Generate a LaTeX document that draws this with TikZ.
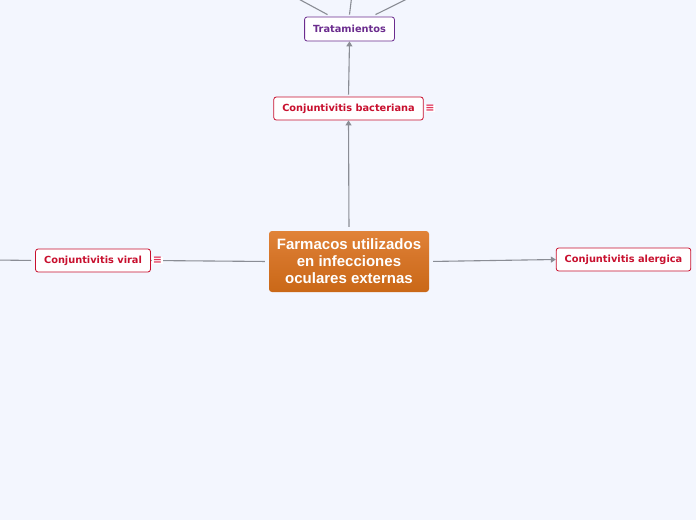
\documentclass[tikz,border=0pt]{standalone}
\usepackage{fontspec}
\setmainfont{DejaVu Sans}
\newfontfamily\centralfont{Liberation Sans}
\usetikzlibrary{arrows.meta}
\definecolor{bgblue}{HTML}{F3F6FE}
\definecolor{topicred}{HTML}{C8102E}
\definecolor{topicpurple}{HTML}{6B2C8E}
\definecolor{orangetop}{HTML}{EC9148}
\definecolor{orangemid}{HTML}{D6762A}
\definecolor{orangebot}{HTML}{C5620F}
\definecolor{orangeedge}{HTML}{E28535}
\definecolor{linkgray}{HTML}{8A8D95}
\definecolor{iconred}{HTML}{E0355A}
\pgfdeclareverticalshading{centralshade}{100bp}{color(0bp)=(orangeedge); color(4bp)=(orangeedge);
  color(12bp)=(orangebot); color(55bp)=(orangemid); color(96bp)=(orangetop); color(100bp)=(orangetop)}

\tikzset{
  topic/.style={draw=topicred, text=topicred, fill=white, rounded corners=2.5pt, line width=0.8pt,
    minimum height=23pt, inner xsep=8.5pt, text depth=1.2pt, font=\bfseries\fontsize{9.8}{11}\selectfont},
  subtopic/.style={topic, draw=topicpurple, text=topicpurple, minimum height=24pt},
  central/.style={rounded corners=3pt, shading=centralshade,
    text=white, align=center, minimum width=160pt, minimum height=61pt, inner sep=0pt,
    font=\centralfont\bfseries\fontsize{15}{17}\selectfont},
  noteicon/.style={fill=white, text=iconred, inner sep=0.6pt, font=\bfseries\fontsize{11}{11}\selectfont},
  link/.style={draw=linkgray, line width=1.1pt},
  linkarrow/.style={link, -{Triangle[length=5pt,width=6pt]}}
}

\begin{document}
\begin{tikzpicture}[x=1pt,y=-1pt]
  \useasboundingbox[fill=bgblue] (0,0) rectangle (696,520);

  % main topic and branches
  \node[central] (farmacos) at (349,261.5) {Farmacos utilizados\\en infecciones\\oculares externas};
  \node[topic] (bacteriana) at (348.5,108.5) {Conjuntivitis bacteriana};
  \node[subtopic] (tratamientos) at (349.5,29) {Tratamientos};
  \node[topic] (viral) at (93,260.5) {Conjuntivitis viral};
  \node[topic] (alergica) at (623.5,259.5) {Conjuntivitis alergica};

  % ends that run out of the picture
  \coordinate (tratA) at (282,-10);
  \coordinate (tratB) at (352.5,-10);
  \coordinate (tratC) at (425,-10);
  \coordinate (viralout) at (-5,260);

  \draw[linkarrow, shorten <=4pt] (farmacos.north) -- (bacteriana.south);
  \draw[linkarrow, shorten <=2pt] (bacteriana.north) -- (tratamientos.south);
  \draw[linkarrow, shorten <=4pt] (farmacos.west) -- (viral.east);
  \draw[linkarrow, shorten <=4pt] (farmacos.east) -- (alergica.west);
  \draw[link, shorten <=4pt] (viral.west) -- (viralout);

  \draw[link] ([xshift=-22pt,yshift=2pt]tratamientos.north) -- (tratA);
  \draw[link] ([xshift=0pt,yshift=2pt]tratamientos.north) -- (tratB);
  \draw[link] ([xshift=26pt,yshift=2pt]tratamientos.north) -- (tratC);

  \node[noteicon] (bacterianaicon) at (430,108.5) {≡};
  \node[noteicon] (viralicon) at (157.5,260.5) {≡};
\end{tikzpicture}
\end{document}
